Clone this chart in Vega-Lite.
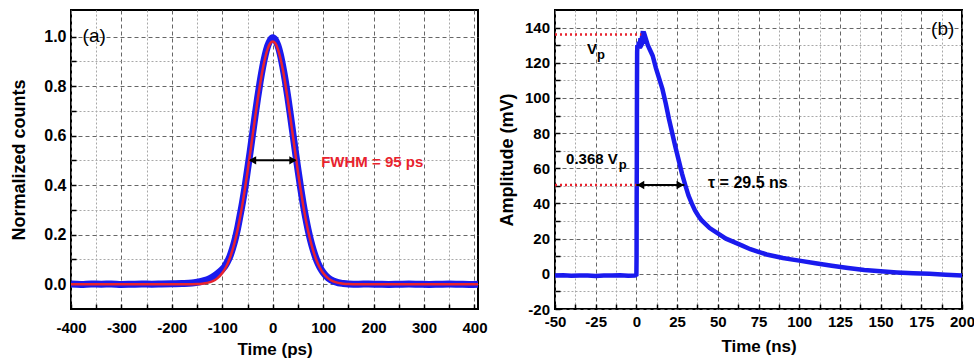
{
  "$schema": "https://vega.github.io/schema/vega-lite/v6.json",
  "background": "white",
  "padding": {"left": 9, "top": 9, "right": 0, "bottom": 5},
  "bounds": "flush",
  "spacing": 77,
  "config": {
    "view": {"stroke": "black", "strokeWidth": 2},
    "axis": {
      "domain": false,
      "labelFont": "Liberation Sans",
      "labelFontWeight": "bold",
      "labelColor": "black",
      "titleFont": "Liberation Sans",
      "titleFontWeight": "bold",
      "titleColor": "black",
      "tickColor": "black",
      "tickWidth": 1.5,
      "tickSize": -5,
      "tickCount": 40,
      "grid": true,
      "gridWidth": 1,
      "labelOverlap": false,
      "labelFlush": false,
      "labelBound": false
    },
    "text": {"font": "Liberation Sans"}
  },
  "datasets": {
    "blueA": [
      {"t": -400, "v": 0.001}, {"t": -380, "v": -0.001}, {"t": -360, "v": 0.001}, {"t": -340, "v": 0}, {"t": -320, "v": 0.001},
      {"t": -300, "v": -0.001}, {"t": -280, "v": 0}, {"t": -260, "v": 0.001}, {"t": -240, "v": 0}, {"t": -220, "v": 0.001},
      {"t": -200, "v": 0.002}, {"t": -180, "v": 0.003}, {"t": -160, "v": 0.005}, {"t": -150, "v": 0.008}, {"t": -140, "v": 0.012},
      {"t": -130, "v": 0.018}, {"t": -120, "v": 0.028}, {"t": -110, "v": 0.042}, {"t": -100, "v": 0.06}, {"t": -95, "v": 0.072},
      {"t": -90, "v": 0.09}, {"t": -85, "v": 0.112}, {"t": -80, "v": 0.142}, {"t": -75, "v": 0.178}, {"t": -70, "v": 0.222},
      {"t": -65, "v": 0.275}, {"t": -60, "v": 0.33}, {"t": -55, "v": 0.392}, {"t": -50, "v": 0.462}, {"t": -45, "v": 0.532},
      {"t": -40, "v": 0.606}, {"t": -35, "v": 0.68}, {"t": -30, "v": 0.752}, {"t": -25, "v": 0.818}, {"t": -20, "v": 0.876},
      {"t": -15, "v": 0.925}, {"t": -10, "v": 0.962}, {"t": -5, "v": 0.985}, {"t": 0, "v": 0.995}, {"t": 5, "v": 0.987},
      {"t": 10, "v": 0.965}, {"t": 15, "v": 0.928}, {"t": 20, "v": 0.878}, {"t": 25, "v": 0.82}, {"t": 30, "v": 0.754},
      {"t": 35, "v": 0.682}, {"t": 40, "v": 0.608}, {"t": 45, "v": 0.534}, {"t": 50, "v": 0.462}, {"t": 55, "v": 0.393},
      {"t": 60, "v": 0.329}, {"t": 65, "v": 0.272}, {"t": 70, "v": 0.221}, {"t": 75, "v": 0.177}, {"t": 80, "v": 0.14},
      {"t": 85, "v": 0.109}, {"t": 90, "v": 0.083}, {"t": 95, "v": 0.063}, {"t": 100, "v": 0.047}, {"t": 110, "v": 0.025},
      {"t": 120, "v": 0.013}, {"t": 130, "v": 0.006}, {"t": 140, "v": 0.003}, {"t": 150, "v": 0.001}, {"t": 170, "v": 0},
      {"t": 190, "v": 0.001}, {"t": 210, "v": 0}, {"t": 230, "v": -0.001}, {"t": 250, "v": 0}, {"t": 270, "v": 0.001},
      {"t": 290, "v": 0}, {"t": 310, "v": -0.001}, {"t": 330, "v": 0}, {"t": 350, "v": 0.001}, {"t": 370, "v": 0},
      {"t": 390, "v": -0.001}, {"t": 407, "v": 0}
    ],
    "fitA": [
      {"t": -400, "v": 0}, {"t": -200, "v": 0}, {"t": -160, "v": 0.0004}, {"t": -150, "v": 0.001}, {"t": -140, "v": 0.0024},
      {"t": -130, "v": 0.0054}, {"t": -120, "v": 0.0116}, {"t": -110, "v": 0.0236}, {"t": -100, "v": 0.0451}, {"t": -95, "v": 0.0609},
      {"t": -90, "v": 0.0809}, {"t": -85, "v": 0.106}, {"t": -80, "v": 0.1366}, {"t": -75, "v": 0.1734}, {"t": -70, "v": 0.2168},
      {"t": -65, "v": 0.2669}, {"t": -60, "v": 0.3235}, {"t": -55, "v": 0.3862}, {"t": -50, "v": 0.4539}, {"t": -45, "v": 0.5254},
      {"t": -40, "v": 0.5988}, {"t": -35, "v": 0.6721}, {"t": -30, "v": 0.7428}, {"t": -25, "v": 0.8085}, {"t": -20, "v": 0.8664},
      {"t": -15, "v": 0.9144}, {"t": -10, "v": 0.9503}, {"t": -5, "v": 0.9725}, {"t": 0, "v": 0.98}, {"t": 5, "v": 0.9725},
      {"t": 10, "v": 0.9503}, {"t": 15, "v": 0.9144}, {"t": 20, "v": 0.8664}, {"t": 25, "v": 0.8085}, {"t": 30, "v": 0.7428},
      {"t": 35, "v": 0.6721}, {"t": 40, "v": 0.5988}, {"t": 45, "v": 0.5254}, {"t": 50, "v": 0.4539}, {"t": 55, "v": 0.3862},
      {"t": 60, "v": 0.3235}, {"t": 65, "v": 0.2669}, {"t": 70, "v": 0.2168}, {"t": 75, "v": 0.1734}, {"t": 80, "v": 0.1366},
      {"t": 85, "v": 0.106}, {"t": 90, "v": 0.0809}, {"t": 95, "v": 0.0609}, {"t": 100, "v": 0.0451}, {"t": 110, "v": 0.0236},
      {"t": 120, "v": 0.0116}, {"t": 130, "v": 0.0054}, {"t": 140, "v": 0.0024}, {"t": 150, "v": 0.001}, {"t": 160, "v": 0.0004},
      {"t": 200, "v": 0}, {"t": 407, "v": 0}
    ],
    "arrowA": [{"t": -45, "t2": 45, "v": 0.5}],
    "headsA": [{"t": -40, "v": 0.5, "dir": "left"}, {"t": 40, "v": 0.5, "dir": "right"}],
    "tagA": [{"t": -377, "v": 1.004, "label": "(a)"}],
    "noteA": [{"t": 96, "v": 0.4925, "label": "FWHM = 95 ps"}],
    "blueB": [
      {"t": -50, "v": -1}, {"t": -45, "v": -0.8}, {"t": -40, "v": -1.1}, {"t": -35, "v": -0.9}, {"t": -30, "v": -1},
      {"t": -25, "v": -1.2}, {"t": -20, "v": -0.9}, {"t": -15, "v": -1}, {"t": -10, "v": -0.8}, {"t": -5, "v": -1.1},
      {"t": -1, "v": -1}, {"t": 0, "v": -0.5}, {"t": 0.1, "v": 10}, {"t": 0.15, "v": 34}, {"t": 0.2, "v": 51},
      {"t": 0.25, "v": 61}, {"t": 0.3, "v": 87}, {"t": 0.35, "v": 104}, {"t": 0.4, "v": 116}, {"t": 0.45, "v": 126},
      {"t": 0.6, "v": 130}, {"t": 1, "v": 128}, {"t": 1.5, "v": 132}, {"t": 2, "v": 128}, {"t": 2.5, "v": 134},
      {"t": 3, "v": 131}, {"t": 3.5, "v": 135}, {"t": 4, "v": 138}, {"t": 4.5, "v": 133}, {"t": 5, "v": 134},
      {"t": 5.5, "v": 131}, {"t": 6, "v": 133}, {"t": 7, "v": 130}, {"t": 8, "v": 128}, {"t": 9, "v": 126},
      {"t": 10, "v": 124}, {"t": 12, "v": 117}, {"t": 14, "v": 111}, {"t": 16, "v": 105}, {"t": 18, "v": 97},
      {"t": 20, "v": 88}, {"t": 22, "v": 80}, {"t": 24, "v": 72}, {"t": 26, "v": 64.5}, {"t": 28, "v": 57},
      {"t": 30, "v": 50.5}, {"t": 32, "v": 44.5}, {"t": 34, "v": 40}, {"t": 36, "v": 36}, {"t": 38, "v": 33},
      {"t": 40, "v": 30.5}, {"t": 45, "v": 26}, {"t": 50, "v": 23}, {"t": 55, "v": 20}, {"t": 60, "v": 18},
      {"t": 65, "v": 16}, {"t": 70, "v": 14}, {"t": 75, "v": 12.5}, {"t": 80, "v": 11}, {"t": 85, "v": 10},
      {"t": 90, "v": 9}, {"t": 95, "v": 8.2}, {"t": 100, "v": 7.5}, {"t": 110, "v": 6}, {"t": 120, "v": 4.6},
      {"t": 130, "v": 3.3}, {"t": 140, "v": 2.2}, {"t": 150, "v": 1.4}, {"t": 160, "v": 0.8}, {"t": 170, "v": 0.3},
      {"t": 180, "v": 0}, {"t": 190, "v": -0.5}, {"t": 200, "v": -1}
    ],
    "refB": [{"t": -50, "t2": 3, "v": 136}, {"t": -50, "t2": 0, "v": 50.5}],
    "arrowB": [{"t": 0, "t2": 29.5, "v": 50.5}],
    "headsB": [{"t": 2.6, "v": 50.5, "dir": "left"}, {"t": 26.9, "v": 50.5, "dir": "right"}],
    "tagB": [{"t": 181, "v": 139.2, "label": "(b)"}],
    "bigB": [{"t": -30.3, "v": 125, "label": "V"}, {"t": -43.2, "v": 62.7, "label": "0.368 V"}],
    "subB": [{"t": -24.2, "v": 122.3, "label": "p"}, {"t": -10.9, "v": 59.5, "label": "p"}],
    "tauB": [{"t": 44, "v": 51.7, "label": "τ = 29.5 ns"}]
  },
  "hconcat": [
    {
      "width": 407,
      "height": 299,
      "layer": [
        {
          "data": {"name": "blueA"},
          "mark": {"type": "line", "color": "#1a1aee", "strokeWidth": 7, "interpolate": "monotone", "clip": true},
          "encoding": {
            "x": {
              "field": "t", "type": "quantitative",
              "scale": {"domain": [-400, 407], "nice": false, "zero": false},
              "axis": {
                "title": "Time (ps)",
                "values": [-400, -350, -300, -250, -200, -150, -100, -50, 0, 50, 100, 150, 200, 250, 300, 350, 400],
                "tickCount": 40,
                "labelExpr": "datum.value % 100 === 0 ? '' + datum.value : ''",
                "labelOverlap": false, "labelFlush": false,
                "labelFontSize": 15, "titleFontSize": 17, "labelPadding": 16.5, "titlePadding": 6,
                "gridDash": {"condition": {"test": "datum.value % 100 === 0", "value": [4, 3]}, "value": [2, 2]},
                "gridColor": {"condition": {"test": "datum.value % 100 === 0", "value": "#666666"}, "value": "#a8a8a8"}
              }
            },
            "y": {
              "field": "v", "type": "quantitative",
              "scale": {"domain": [-0.1, 1.107], "nice": false, "zero": false},
              "axis": {
                "title": "Normalized counts",
                "values": [0, 0.1, 0.2, 0.3, 0.4, 0.5, 0.6, 0.7, 0.8, 0.9, 1.0],
                "tickCount": 40,
                "labelExpr": "round(datum.value * 10) % 2 === 0 ? format(datum.value, '.1f') : ''",
                "labelOverlap": false,
                "labelFontSize": 16, "titleFontSize": 18, "labelPadding": 10, "titlePadding": 15,
                "gridDash": {"condition": {"test": "round(datum.value * 10) % 2 === 0", "value": [4, 3]}, "value": [2, 2]},
                "gridColor": {"condition": {"test": "round(datum.value * 10) % 2 === 0", "value": "#666666"}, "value": "#a8a8a8"}
              }
            }
          }
        },
        {
          "data": {"name": "fitA"},
          "mark": {"type": "line", "color": "#e8232e", "strokeWidth": 2.5, "interpolate": "monotone", "clip": true},
          "encoding": {
            "x": {"field": "t", "type": "quantitative"},
            "y": {"field": "v", "type": "quantitative"}
          }
        },
        {
          "data": {"name": "arrowA"},
          "mark": {"type": "rule", "color": "black", "strokeWidth": 2},
          "encoding": {
            "x": {"field": "t", "type": "quantitative"},
            "x2": {"field": "t2"},
            "y": {"field": "v", "type": "quantitative"}
          }
        },
        {
          "data": {"name": "headsA"},
          "mark": {"type": "point", "filled": true, "color": "black", "size": 70, "opacity": 1},
          "encoding": {
            "x": {"field": "t", "type": "quantitative"},
            "y": {"field": "v", "type": "quantitative"},
            "shape": {"field": "dir", "type": "nominal", "scale": {"domain": ["left", "right"], "range": ["triangle-left", "triangle-right"]}, "legend": null}
          }
        },
        {
          "data": {"name": "tagA"},
          "mark": {"type": "text", "align": "left", "baseline": "middle", "fontSize": 19, "color": "black"},
          "encoding": {
            "x": {"field": "t", "type": "quantitative"},
            "y": {"field": "v", "type": "quantitative"},
            "text": {"field": "label"}
          }
        },
        {
          "data": {"name": "noteA"},
          "mark": {"type": "text", "align": "left", "baseline": "middle", "fontSize": 15, "fontWeight": "bold", "color": "#e8232e"},
          "encoding": {
            "x": {"field": "t", "type": "quantitative"},
            "y": {"field": "v", "type": "quantitative"},
            "text": {"field": "label"}
          }
        }
      ]
    },
    {
      "width": 407,
      "height": 299,
      "layer": [
        {
          "data": {"name": "blueB"},
          "mark": {"type": "line", "color": "#1a1aee", "strokeWidth": 4.5, "clip": true},
          "encoding": {
            "x": {
              "field": "t", "type": "quantitative",
              "scale": {"domain": [-50, 200], "nice": false, "zero": false},
              "axis": {
                "title": "Time (ns)",
                "values": [-50, -37.5, -25, -12.5, 0, 12.5, 25, 37.5, 50, 62.5, 75, 87.5, 100, 112.5, 125, 137.5, 150, 162.5, 175, 187.5, 200],
                "tickCount": 40,
                "labelExpr": "datum.value % 25 === 0 ? '' + datum.value : ''",
                "labelOverlap": false, "labelFlush": false,
                "labelFontSize": 15, "titleFontSize": 17, "labelPadding": 10, "titlePadding": 9,
                "gridDash": {"condition": {"test": "datum.value % 25 === 0", "value": [4, 3]}, "value": [2, 2]},
                "gridColor": {"condition": {"test": "datum.value % 25 === 0", "value": "#666666"}, "value": "#a8a8a8"}
              }
            },
            "y": {
              "field": "v", "type": "quantitative",
              "scale": {"domain": [-20, 150], "nice": false, "zero": false},
              "axis": {
                "title": "Amplitude (mV)",
                "values": [-20, -10, 0, 10, 20, 30, 40, 50, 60, 70, 80, 90, 100, 110, 120, 130, 140],
                "tickCount": 40,
                "labelExpr": "datum.value % 20 === 0 ? '' + datum.value : ''",
                "labelOverlap": false,
                "labelFontSize": 15, "titleFontSize": 18, "labelPadding": 10.5, "titlePadding": 7.5,
                "gridDash": {"condition": {"test": "datum.value % 20 === 0", "value": [4, 3]}, "value": [2, 2]},
                "gridColor": {"condition": {"test": "datum.value % 20 === 0", "value": "#666666"}, "value": "#a8a8a8"}
              }
            }
          }
        },
        {
          "data": {"name": "refB"},
          "mark": {"type": "rule", "color": "#e8232e", "strokeWidth": 2.5, "strokeDash": [2, 3]},
          "encoding": {
            "x": {"field": "t", "type": "quantitative"},
            "x2": {"field": "t2"},
            "y": {"field": "v", "type": "quantitative"}
          }
        },
        {
          "data": {"name": "arrowB"},
          "mark": {"type": "rule", "color": "black", "strokeWidth": 2},
          "encoding": {
            "x": {"field": "t", "type": "quantitative"},
            "x2": {"field": "t2"},
            "y": {"field": "v", "type": "quantitative"}
          }
        },
        {
          "data": {"name": "headsB"},
          "mark": {"type": "point", "filled": true, "color": "black", "size": 70, "opacity": 1},
          "encoding": {
            "x": {"field": "t", "type": "quantitative"},
            "y": {"field": "v", "type": "quantitative"},
            "shape": {"field": "dir", "type": "nominal", "scale": {"domain": ["left", "right"], "range": ["triangle-left", "triangle-right"]}, "legend": null}
          }
        },
        {
          "data": {"name": "tagB"},
          "mark": {"type": "text", "align": "left", "baseline": "middle", "fontSize": 19, "color": "black"},
          "encoding": {
            "x": {"field": "t", "type": "quantitative"},
            "y": {"field": "v", "type": "quantitative"},
            "text": {"field": "label"}
          }
        },
        {
          "data": {"name": "bigB"},
          "mark": {"type": "text", "align": "left", "baseline": "alphabetic", "fontSize": 15, "fontWeight": "bold", "color": "black"},
          "encoding": {
            "x": {"field": "t", "type": "quantitative"},
            "y": {"field": "v", "type": "quantitative"},
            "text": {"field": "label"}
          }
        },
        {
          "data": {"name": "subB"},
          "mark": {"type": "text", "align": "left", "baseline": "alphabetic", "fontSize": 13, "fontWeight": "bold", "color": "black"},
          "encoding": {
            "x": {"field": "t", "type": "quantitative"},
            "y": {"field": "v", "type": "quantitative"},
            "text": {"field": "label"}
          }
        },
        {
          "data": {"name": "tauB"},
          "mark": {"type": "text", "align": "left", "baseline": "middle", "fontSize": 16, "fontWeight": "bold", "color": "black"},
          "encoding": {
            "x": {"field": "t", "type": "quantitative"},
            "y": {"field": "v", "type": "quantitative"},
            "text": {"field": "label"}
          }
        }
      ]
    }
  ]
}
